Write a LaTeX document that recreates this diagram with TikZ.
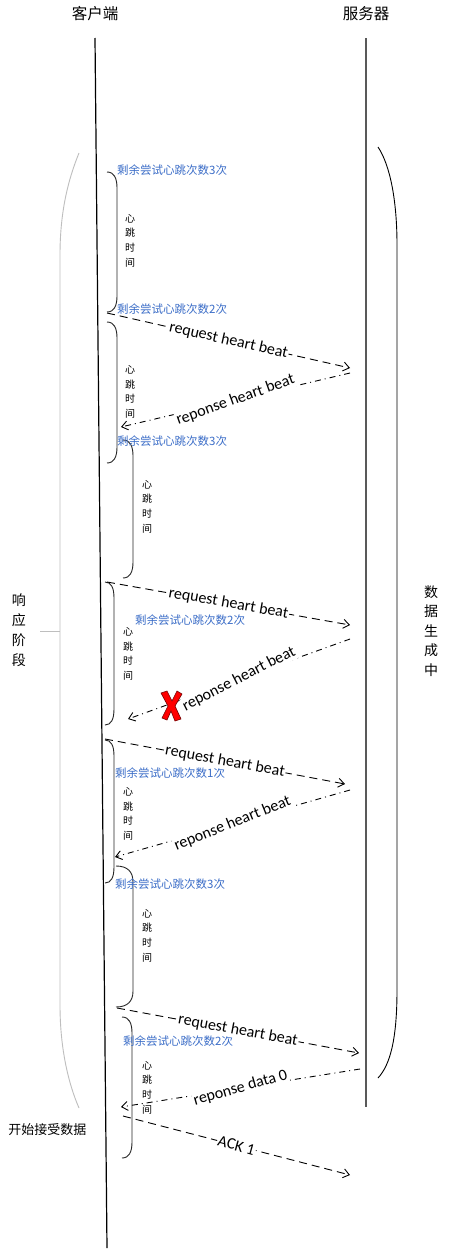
\documentclass[tikz,border=0pt]{standalone}
\usepackage{fontspec}
\setmainfont{Carlito}
\newfontfamily\cjk{Noto Sans CJK SC}
\usetikzlibrary{arrows.meta}
\definecolor{lblblue}{RGB}{60,110,200}
\definecolor{brgray}{RGB}{190,190,190}
\newcommand\pbrace[4]{%
  \draw[brc] (#1,#2) .. controls (#1+0.7*#4,#2) and (#1+#4,#2+6) .. (#1+#4,#2+16)
    -- (#1+#4,#3-16) .. controls (#1+#4,#3-6) and (#1+0.7*#4,#3) .. (#1,#3);}
\begin{document}
\begin{tikzpicture}[x=1pt,y=-1pt,
  title/.style={font=\cjk\fontsize{15.5}{17}\selectfont, inner sep=0pt},
  vtext/.style={font=\cjk\fontsize{14}{20}\selectfont, align=center, inner sep=0pt},
  htime/.style={font=\cjk\fontsize{10}{14.7}\selectfont, align=center, inner sep=0pt},
  remain/.style={font=\cjk\fontsize{11.5}{13}\selectfont, text=lblblue, anchor=west, inner sep=0pt},
  life/.style={line width=1.2pt},
  brc/.style={line width=0.9pt, black!85},
  req/.style={line width=0.9pt, dash pattern=on 8pt off 5pt, -{Straight Barb[length=6pt,width=9pt]}},
  rsp/.style={line width=0.9pt, dash pattern=on 6pt off 4pt on 1pt off 4pt, -{Straight Barb[length=6pt,width=9pt]}},
  alab/.style={font=\fontsize{16}{18}\selectfont, fill=white, inner sep=1pt},
]
\useasboundingbox[fill=white] (0,0) rectangle (448,1250);

% titles
\node[title] (client) at (95,14) {客户端};
\node[title] (server) at (366,14) {服务器};

% lifelines
\coordinate (ctop) at (95,38);
\coordinate (cbot) at (107,1248);
\coordinate (stop) at (366,38);
\coordinate (sbot) at (366,1107);
\draw[life] (ctop) -- (cbot);
\draw[life, black!65] (stop) -- (sbot);

% big left gray bracket
\draw[brgray, line width=0.9pt] (79,153) .. controls (68,180) and (60,212) .. (60,255)
  -- (60,1005) .. controls (60,1050) and (69,1085) .. (79,1108);
\coordinate (tickL) at (40,631);
\coordinate (tickR) at (60,631);
\draw[brgray, line width=0.9pt] (tickL) -- (tickR);
\node[vtext] (phase) at (19,630) {响\\应\\阶\\段};

% big right bracket
\draw[line width=0.9pt] (378,147) .. controls (390,165) and (397,200) .. (397,245)
  -- (397,990) .. controls (397,1040) and (390,1065) .. (378,1078);
\node[vtext, font=\cjk\fontsize{14}{19.5}\selectfont] (gen) at (431,631) {数\\据\\生\\成\\中};

% small braces
\pbrace{107}{172}{312}{10}
\pbrace{107}{322}{463}{10}
\pbrace{123}{440}{578}{10}
\pbrace{105}{582}{725}{9}
\pbrace{105}{740}{883}{9}
\pbrace{116}{866}{1007}{17}
\pbrace{122}{1017}{1158}{10}

% heart-beat time labels
\node[htime] (h1) at (130,240.5) {心\\跳\\时\\间};
\node[htime] (h2) at (130,392) {心\\跳\\时\\间};
\node[htime] (h3) at (147,506.5) {心\\跳\\时\\间};
\node[htime] (h4) at (128,654) {心\\跳\\时\\间};
\node[htime] (h5) at (128,814) {心\\跳\\时\\间};
\node[htime] (h6) at (147,935.5) {心\\跳\\时\\间};
\node[htime] (h7) at (147,1087.5) {心\\跳\\时\\间};

% remaining attempts labels
\node[remain] (r1) at (117,170) {剩余尝试心跳次数3次};
\node[remain] (r2) at (117,309) {剩余尝试心跳次数2次};
\node[remain] (r3) at (117,441) {剩余尝试心跳次数3次};
\node[remain] (r4) at (135,620) {剩余尝试心跳次数2次};
\node[remain] (r5) at (115,773) {剩余尝试心跳次数1次};
\node[remain] (r6) at (115,884) {剩余尝试心跳次数3次};
\node[remain] (r7) at (123,1041) {剩余尝试心跳次数2次};

% message end points
\coordinate (a1s) at (107,313);  \coordinate (a1e) at (350,368);
\coordinate (a2s) at (350,373);  \coordinate (a2e) at (121,427);
\coordinate (a3s) at (107,582);  \coordinate (a3e) at (350,625);
\coordinate (a4s) at (350,639);  \coordinate (a4e) at (128,719);
\coordinate (a5s) at (105,739);  \coordinate (a5e) at (345,784);
\coordinate (a6s) at (350,790);  \coordinate (a6e) at (115,857);
\coordinate (a7s) at (117,1008); \coordinate (a7e) at (359,1053);
\coordinate (a8s) at (360,1069); \coordinate (a8e) at (121,1107);
\coordinate (a9s) at (123,1116); \coordinate (a9e) at (350,1175);

\draw[req] (a1s) -- node[alab, rotate=-12.7] (l1) {request heart beat} (a1e);
\draw[rsp] (a2s) -- node[alab, rotate=19.6] (l2) {reponse heart beat} (a2e);
\draw[req] (a3s) -- node[alab, rotate=-10] (l3) {request heart beat} (a3e);
\draw[rsp] (a4s) -- node[alab, rotate=27] (l4) {reponse heart beat} (a4e);
\draw[req] (a5s) -- node[alab, rotate=-10.3] (l5) {request heart beat} (a5e);
\draw[rsp] (a6s) -- node[alab, rotate=22] (l6) {reponse heart beat} (a6e);
\draw[req] (a7s) -- node[alab, rotate=-10.5] (l7) {request heart beat} (a7e);
\draw[rsp] (a8s) -- node[alab, rotate=16] (l8) {reponse data 0} (a8e);
\draw[req] (a9s) -- node[alab, rotate=-15.5] (l9) {ACK 1} (a9e);

% lost packet mark
\draw[fill=red, draw=red!45!black, line width=0.6pt, shift={(171,706)}]
  (-10,-13) -- (-4,-15) -- (1,-5) -- (6,-15) -- (11,-12) -- (4,0) -- (10,13)
  -- (4,15) -- (0,5) -- (-4,14) -- (-9,12) -- (-3,0) -- cycle;

\node[font=\cjk\fontsize{13}{15}\selectfont, inner sep=0pt] (recv) at (47.5,1130) {开始接受数据};
\end{tikzpicture}
\end{document}
